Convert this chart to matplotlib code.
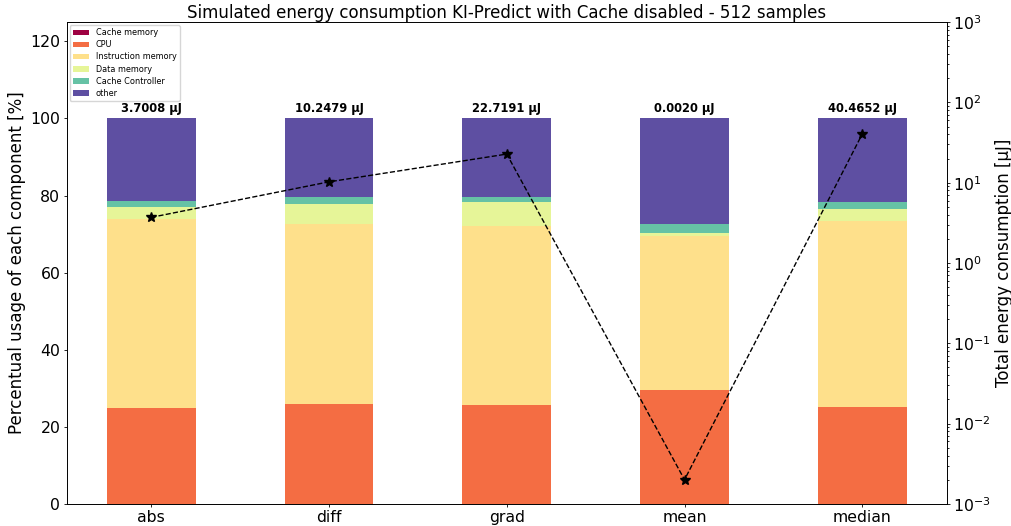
import matplotlib.pyplot as plt
import numpy as np

# data
methods = ['abs', 'diff', 'grad', 'mean', 'median']
components = ['Cache memory', 'CPU', 'Instruction memory', 'Data memory',
              'Cache Controller', 'other']
cache_mem = [0.0, 0.0, 0.0, 0.0, 0.0]
cpu = [24.9, 26.0, 25.7, 29.6, 25.2]
instr_mem = [48.9, 46.5, 46.3, 39.8, 48.3]
data_mem = [3.2, 5.4, 6.2, 1.0, 3.1]
cache_ctrl = [1.7, 1.6, 1.5, 2.3, 1.8]
other = [21.3, 20.5, 20.3, 27.3, 21.6]
total_energy = [3.7008, 10.2479, 22.7191, 0.0020, 40.4652]

fig, ax = plt.subplots(figsize=(10.12, 5.26), dpi=100)
fig.subplots_adjust(left=0.066, right=0.9355, bottom=0.042, top=0.958)

colors = plt.cm.Spectral(np.linspace(0, 1, len(components)))
x = np.arange(len(methods))
bottom = np.zeros(len(methods))
for name, vals, c in zip(components,
                         [cache_mem, cpu, instr_mem, data_mem, cache_ctrl, other],
                         colors):
    ax.bar(x, vals, 0.5, bottom=bottom, color=c, label=name)
    bottom += np.array(vals)

for xi, top, e in zip(x, bottom, total_energy):
    ax.text(xi, top + 0.9, f'{e:.4f} µJ', ha='center', va='bottom',
            fontsize=8.3, fontweight='bold')

ax.set_xticks(x)
ax.set_xticklabels(methods)
ax.tick_params(axis='both', labelsize=11.3, length=2.5, pad=2.2, width=0.6)
ax.set_ylim(0, 125)
ax.set_ylabel('Percentual usage of each component [%]', fontsize=12, labelpad=3)
ax.set_title('Simulated energy consumption KI-Predict with Cache disabled - 512 samples',
             fontsize=12, pad=3)
ax.legend(loc='upper left', fontsize=5.9, borderaxespad=0.35, labelspacing=0.38)
for s in ax.spines.values():
    s.set_linewidth(0.6)

ax2 = ax.twinx()
ax2.plot(x, total_energy, 'k--*', linewidth=1, markersize=7)
ax2.set_yscale('log')
ax2.set_ylim(1e-3, 1e3)
ax2.tick_params(axis='y', which='both', labelsize=11.3, pad=2.2, width=0.6)
ax2.tick_params(axis='y', which='major', length=2.5)
ax2.tick_params(axis='y', which='minor', length=1.4)
ax2.set_ylabel('Total energy consumption [µJ]', fontsize=12, labelpad=3)
for s in ax2.spines.values():
    s.set_linewidth(0.6)

plt.savefig('out.png')
